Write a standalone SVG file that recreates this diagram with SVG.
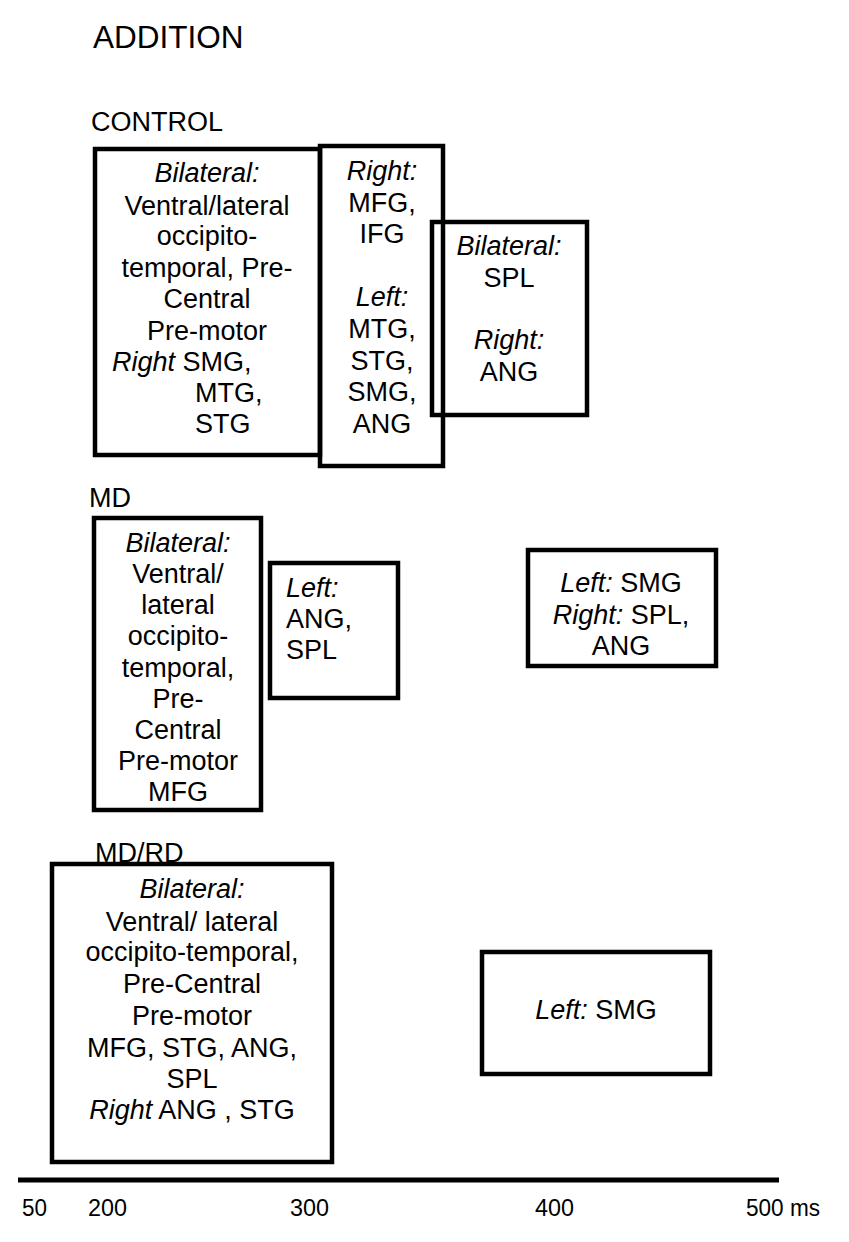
<svg xmlns="http://www.w3.org/2000/svg" width="849" height="1242" viewBox="0 0 849 1242">
<style>
text{font-family:"Liberation Sans",Arial,sans-serif;font-size:27px;fill:#000}
.c{text-anchor:middle}
.i{font-style:italic}
.box{fill:none;stroke:#000;stroke-width:4.5}
.h{font-size:31.5px}
.t{font-size:24px}
</style>
<rect width="849" height="1242" fill="#fff"/>
<text class="h" x="93" y="48">ADDITION</text>
<text x="91" y="131">CONTROL</text>
<text x="89" y="507">MD</text>
<text x="95" y="862">MD/RD</text>

<g id="control-1">
<rect class="box" x="95" y="149" width="225" height="306"/>
<text class="c" x="207" y="182"><tspan class="i">Bilateral:</tspan></text>
<text class="c" x="207" y="215">Ventral/lateral</text>
<text class="c" x="207" y="245">occipito-</text>
<text class="c" x="207" y="277">temporal, Pre-</text>
<text class="c" x="207" y="308">Central</text>
<text class="c" x="207" y="340">Pre-motor</text>
<text x="112" y="371"><tspan class="i">Right</tspan> SMG,</text>
<text x="195" y="402">MTG,</text>
<text x="195" y="433">STG</text>
</g>
<g id="control-2">
<rect class="box" x="320" y="146" width="123" height="320"/>
<text class="c" x="382" y="180"><tspan class="i">Right:</tspan></text>
<text class="c" x="382" y="212">MFG,</text>
<text class="c" x="382" y="243">IFG</text>
<text class="c" x="382" y="306"><tspan class="i">Left:</tspan></text>
<text class="c" x="382" y="338">MTG,</text>
<text class="c" x="382" y="370">STG,</text>
<text class="c" x="382" y="401">SMG,</text>
<text class="c" x="382" y="433">ANG</text>
</g>
<g id="control-3">
<rect class="box" x="432" y="222" width="155" height="193"/>
<text class="c" x="509" y="255"><tspan class="i">Bilateral:</tspan></text>
<text class="c" x="509" y="287">SPL</text>
<text class="c" x="509" y="349"><tspan class="i">Right:</tspan></text>
<text class="c" x="509" y="381">ANG</text>
</g>

<g id="md-1">
<rect class="box" x="94" y="518" width="167" height="292"/>
<text class="c" x="178" y="552"><tspan class="i">Bilateral:</tspan></text>
<text class="c" x="178" y="583">Ventral/</text>
<text class="c" x="178" y="614">lateral</text>
<text class="c" x="178" y="645">occipito-</text>
<text class="c" x="178" y="677">temporal,</text>
<text class="c" x="178" y="708">Pre-</text>
<text class="c" x="178" y="739">Central</text>
<text class="c" x="178" y="770">Pre-motor</text>
<text class="c" x="178" y="801">MFG</text>
</g>
<g id="md-2">
<rect class="box" x="270" y="563" width="128" height="135"/>
<text x="286" y="597"><tspan class="i">Left:</tspan></text>
<text x="286" y="628">ANG,</text>
<text x="286" y="659">SPL</text>
</g>
<g id="md-3">
<rect class="box" x="528" y="550" width="188" height="116"/>
<text class="c" x="621" y="592"><tspan class="i">Left:</tspan> SMG</text>
<text class="c" x="621" y="624"><tspan class="i">Right:</tspan> SPL,</text>
<text class="c" x="621" y="655">ANG</text>
</g>

<g id="mdrd-1">
<rect class="box" x="52" y="864" width="280" height="298"/>
<text class="c" x="192" y="898"><tspan class="i">Bilateral:</tspan></text>
<text class="c" x="192" y="931">Ventral/ lateral</text>
<text class="c" x="192" y="961">occipito-temporal,</text>
<text class="c" x="192" y="993">Pre-Central</text>
<text class="c" x="192" y="1025">Pre-motor</text>
<text class="c" x="192" y="1057">MFG, STG, ANG,</text>
<text class="c" x="192" y="1088">SPL</text>
<text class="c" x="192" y="1119"><tspan class="i">Right</tspan> ANG , STG</text>
</g>
<g id="mdrd-2">
<rect class="box" x="482" y="952" width="228" height="122"/>
<text class="c" x="596" y="1019"><tspan class="i">Left:</tspan> SMG</text>
</g>

<g id="connectors">
<line x1="18" y1="1180" x2="779" y2="1180" stroke="#000" stroke-width="5"/>
</g>
<g id="axis-labels">
<text class="t" x="22" y="1216" textLength="25" lengthAdjust="spacingAndGlyphs">50</text>
<text class="t" x="88" y="1216" textLength="39" lengthAdjust="spacingAndGlyphs">200</text>
<text class="t" x="290" y="1216" textLength="39" lengthAdjust="spacingAndGlyphs">300</text>
<text class="t" x="535" y="1216" textLength="39" lengthAdjust="spacingAndGlyphs">400</text>
<text class="t" x="746" y="1216" textLength="74" lengthAdjust="spacingAndGlyphs">500 ms</text>
</g>
</svg>
